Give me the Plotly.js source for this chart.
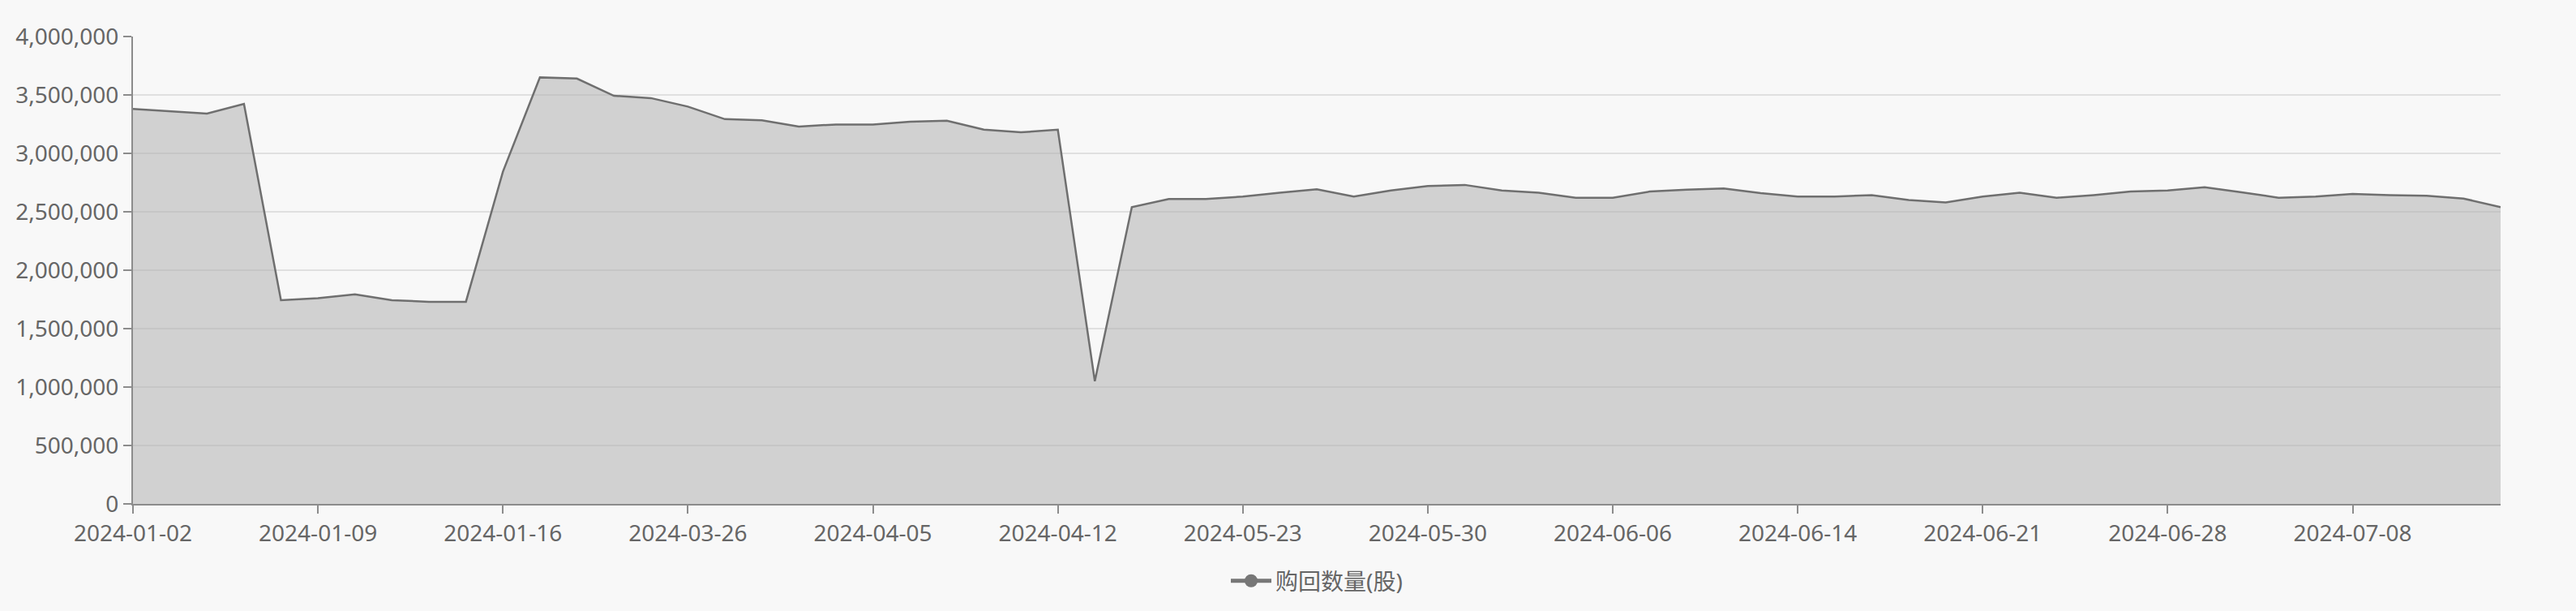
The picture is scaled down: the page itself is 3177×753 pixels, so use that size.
<!DOCTYPE html>
<html>
<head>
<meta charset="utf-8">
<script src="https://cdn.plot.ly/plotly-3.0.1.min.js"></script>
<style>
html,body{margin:0;padding:0;background:#f8f8f8;}
#chart{width:3177px;height:753px;}
</style>
</head>
<body>
<div id="chart"></div>
<script>
const categories = [
  "2024-01-02","2024-01-03","2024-01-04","2024-01-05","2024-01-08",
  "2024-01-09","2024-01-10","2024-01-11","2024-01-12","2024-01-15",
  "2024-01-16","2024-01-17","2024-01-18","2024-01-19","2024-03-25",
  "2024-03-26","2024-03-27","2024-03-28","2024-04-01","2024-04-03",
  "2024-04-05","2024-04-08","2024-04-09","2024-04-10","2024-04-11",
  "2024-04-12","2024-04-15","2024-05-20","2024-05-21","2024-05-22",
  "2024-05-23","2024-05-24","2024-05-27","2024-05-28","2024-05-29",
  "2024-05-30","2024-05-31","2024-06-03","2024-06-04","2024-06-05",
  "2024-06-06","2024-06-07","2024-06-11","2024-06-12","2024-06-13",
  "2024-06-14","2024-06-17","2024-06-18","2024-06-19","2024-06-20",
  "2024-06-21","2024-06-24","2024-06-25","2024-06-26","2024-06-27",
  "2024-06-28","2024-07-01","2024-07-02","2024-07-03","2024-07-05",
  "2024-07-08","2024-07-09","2024-07-10","2024-07-11","2024-07-12"
];
const buybackShares = [
  3380000,3360000,3340000,3423000,1743000,
  1760000,1793000,1743000,1730000,1730000,
  2843000,3650000,3640000,3493000,3473000,
  3400000,3293000,3283000,3230000,3247000,
  3247000,3270000,3280000,3203000,3180000,
  3203000,1050000,2540000,2610000,2610000,
  2630000,2663000,2693000,2630000,2683000,
  2720000,2730000,2683000,2663000,2620000,
  2620000,2673000,2690000,2700000,2660000,
  2630000,2630000,2643000,2600000,2580000,
  2630000,2663000,2620000,2643000,2673000,
  2683000,2710000,2667000,2620000,2630000,
  2653000,2643000,2637000,2613000,2540000
];
const seriesName = "购回数量(股)";
const xTickLabels = categories.filter((c, i) => i % 5 === 0);
const yTickValues = [0,500000,1000000,1500000,2000000,2500000,3000000,3500000,4000000];

const FONT = '"Noto Sans", "Noto Sans CJK SC", sans-serif';
const TXT = '#666666';

const traces = [
  {
    type: 'scatter',
    mode: 'lines',
    x: categories,
    y: buybackShares,
    name: seriesName,
    showlegend: false,
    line: {color: '#6f6f6f', width: 2.5},
    fill: 'tozeroy',
    fillcolor: 'rgba(178,178,178,0.56)',
    hoverinfo: 'x+y'
  },
  {
    type: 'scatter',
    mode: 'lines+markers',
    x: [null],
    y: [null],
    name: seriesName,
    showlegend: true,
    line: {color: '#777777', width: 5},
    marker: {color: '#777777', size: 22, symbol: 'circle'},
    hoverinfo: 'skip'
  }
];

const layout = {
  width: 3177,
  height: 753,
  paper_bgcolor: '#f8f8f8',
  plot_bgcolor: '#f8f8f8',
  margin: {l: 164, r: 93, t: 45, b: 132, pad: 0},
  font: {family: FONT, size: 28, color: TXT},
  showlegend: true,
  legend: {
    orientation: 'h',
    x: 0.5, xanchor: 'center',
    y: -0.165, yanchor: 'middle',
    itemwidth: 50,
    font: {family: FONT, size: 28, color: TXT},
    bgcolor: 'rgba(0,0,0,0)'
  },
  xaxis: {
    type: 'category',
    categoryorder: 'array',
    categoryarray: categories,
    range: [0, categories.length - 1],
    tickmode: 'array',
    tickvals: xTickLabels,
    ticktext: xTickLabels,
    ticks: 'outside',
    ticklen: 10,
    tickwidth: 2,
    tickcolor: '#8c8c8c',
    showline: true,
    linecolor: '#8c8c8c',
    linewidth: 2,
    showgrid: false,
    zeroline: false,
    tickfont: {family: FONT, size: 28, color: TXT},
    fixedrange: true
  },
  yaxis: {
    range: [0, 4000000],
    tickmode: 'array',
    tickvals: yTickValues,
    tickformat: ',d',
    ticks: 'outside',
    ticklen: 10,
    tickwidth: 2,
    tickcolor: '#8c8c8c',
    showline: true,
    linecolor: '#8c8c8c',
    linewidth: 2,
    showgrid: true,
    gridcolor: '#e0e0e0',
    gridwidth: 2,
    zeroline: false,
    tickfont: {family: FONT, size: 28, color: TXT},
    fixedrange: true
  }
};

Plotly.newPlot('chart', traces, layout, {staticPlot: true, displayModeBar: false});
</script>
</body>
</html>
